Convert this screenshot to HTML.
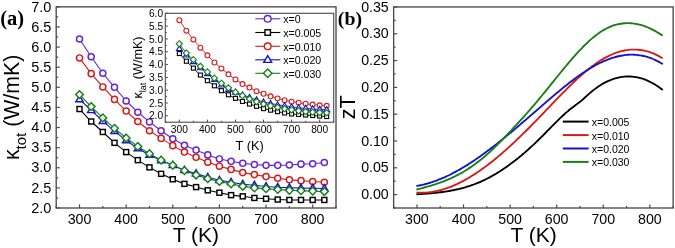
<!DOCTYPE html>
<html><head><meta charset="utf-8"><style>
html,body{margin:0;padding:0;background:#fff;}
body{width:675px;height:248px;overflow:hidden;font-family:"Liberation Sans",sans-serif;}
svg{display:block;filter:blur(0.4px);}
</style></head><body>
<svg width="675" height="248" viewBox="0 0 675 248">
<rect width="675" height="248" fill="#fff"/>
<line x1="56.2" y1="208" x2="59.8" y2="208" stroke="#4a4a4a" stroke-width="1.2"/>
<text x="51.3" y="212.7" font-family='"Liberation Sans", sans-serif' font-size="14.5" text-anchor="end" font-weight="normal" fill="#000" >2.0</text>
<line x1="56.2" y1="197.94" x2="58.2" y2="197.94" stroke="#4a4a4a" stroke-width="1.2"/>
<line x1="56.2" y1="187.89" x2="59.8" y2="187.89" stroke="#4a4a4a" stroke-width="1.2"/>
<text x="51.3" y="192.59" font-family='"Liberation Sans", sans-serif' font-size="14.5" text-anchor="end" font-weight="normal" fill="#000" >2.5</text>
<line x1="56.2" y1="177.83" x2="58.2" y2="177.83" stroke="#4a4a4a" stroke-width="1.2"/>
<line x1="56.2" y1="167.77" x2="59.8" y2="167.77" stroke="#4a4a4a" stroke-width="1.2"/>
<text x="51.3" y="172.47" font-family='"Liberation Sans", sans-serif' font-size="14.5" text-anchor="end" font-weight="normal" fill="#000" >3.0</text>
<line x1="56.2" y1="157.71" x2="58.2" y2="157.71" stroke="#4a4a4a" stroke-width="1.2"/>
<line x1="56.2" y1="147.66" x2="59.8" y2="147.66" stroke="#4a4a4a" stroke-width="1.2"/>
<text x="51.3" y="152.35" font-family='"Liberation Sans", sans-serif' font-size="14.5" text-anchor="end" font-weight="normal" fill="#000" >3.5</text>
<line x1="56.2" y1="137.6" x2="58.2" y2="137.6" stroke="#4a4a4a" stroke-width="1.2"/>
<line x1="56.2" y1="127.54" x2="59.8" y2="127.54" stroke="#4a4a4a" stroke-width="1.2"/>
<text x="51.3" y="132.24" font-family='"Liberation Sans", sans-serif' font-size="14.5" text-anchor="end" font-weight="normal" fill="#000" >4.0</text>
<line x1="56.2" y1="117.48" x2="58.2" y2="117.48" stroke="#4a4a4a" stroke-width="1.2"/>
<line x1="56.2" y1="107.42" x2="59.8" y2="107.42" stroke="#4a4a4a" stroke-width="1.2"/>
<text x="51.3" y="112.12" font-family='"Liberation Sans", sans-serif' font-size="14.5" text-anchor="end" font-weight="normal" fill="#000" >4.5</text>
<line x1="56.2" y1="97.37" x2="58.2" y2="97.37" stroke="#4a4a4a" stroke-width="1.2"/>
<line x1="56.2" y1="87.31" x2="59.8" y2="87.31" stroke="#4a4a4a" stroke-width="1.2"/>
<text x="51.3" y="92.01" font-family='"Liberation Sans", sans-serif' font-size="14.5" text-anchor="end" font-weight="normal" fill="#000" >5.0</text>
<line x1="56.2" y1="77.25" x2="58.2" y2="77.25" stroke="#4a4a4a" stroke-width="1.2"/>
<line x1="56.2" y1="67.2" x2="59.8" y2="67.2" stroke="#4a4a4a" stroke-width="1.2"/>
<text x="51.3" y="71.9" font-family='"Liberation Sans", sans-serif' font-size="14.5" text-anchor="end" font-weight="normal" fill="#000" >5.5</text>
<line x1="56.2" y1="57.14" x2="58.2" y2="57.14" stroke="#4a4a4a" stroke-width="1.2"/>
<line x1="56.2" y1="47.08" x2="59.8" y2="47.08" stroke="#4a4a4a" stroke-width="1.2"/>
<text x="51.3" y="51.78" font-family='"Liberation Sans", sans-serif' font-size="14.5" text-anchor="end" font-weight="normal" fill="#000" >6.0</text>
<line x1="56.2" y1="37.02" x2="58.2" y2="37.02" stroke="#4a4a4a" stroke-width="1.2"/>
<line x1="56.2" y1="26.97" x2="59.8" y2="26.97" stroke="#4a4a4a" stroke-width="1.2"/>
<text x="51.3" y="31.67" font-family='"Liberation Sans", sans-serif' font-size="14.5" text-anchor="end" font-weight="normal" fill="#000" >6.5</text>
<line x1="56.2" y1="16.91" x2="58.2" y2="16.91" stroke="#4a4a4a" stroke-width="1.2"/>
<line x1="56.2" y1="6.85" x2="59.8" y2="6.85" stroke="#4a4a4a" stroke-width="1.2"/>
<text x="51.3" y="11.55" font-family='"Liberation Sans", sans-serif' font-size="14.5" text-anchor="end" font-weight="normal" fill="#000" >7.0</text>
<line x1="56.2" y1="208" x2="56.2" y2="206" stroke="#4a4a4a" stroke-width="1.2"/>
<line x1="79.52" y1="208" x2="79.52" y2="204.4" stroke="#4a4a4a" stroke-width="1.2"/>
<text x="79.52" y="224.2" font-family='"Liberation Sans", sans-serif' font-size="14.2" text-anchor="middle" font-weight="normal" fill="#000" >300</text>
<line x1="102.83" y1="208" x2="102.83" y2="206" stroke="#4a4a4a" stroke-width="1.2"/>
<line x1="126.15" y1="208" x2="126.15" y2="204.4" stroke="#4a4a4a" stroke-width="1.2"/>
<text x="126.15" y="224.2" font-family='"Liberation Sans", sans-serif' font-size="14.2" text-anchor="middle" font-weight="normal" fill="#000" >400</text>
<line x1="149.47" y1="208" x2="149.47" y2="206" stroke="#4a4a4a" stroke-width="1.2"/>
<line x1="172.78" y1="208" x2="172.78" y2="204.4" stroke="#4a4a4a" stroke-width="1.2"/>
<text x="172.78" y="224.2" font-family='"Liberation Sans", sans-serif' font-size="14.2" text-anchor="middle" font-weight="normal" fill="#000" >500</text>
<line x1="196.1" y1="208" x2="196.1" y2="206" stroke="#4a4a4a" stroke-width="1.2"/>
<line x1="219.42" y1="208" x2="219.42" y2="204.4" stroke="#4a4a4a" stroke-width="1.2"/>
<text x="219.42" y="224.2" font-family='"Liberation Sans", sans-serif' font-size="14.2" text-anchor="middle" font-weight="normal" fill="#000" >600</text>
<line x1="242.73" y1="208" x2="242.73" y2="206" stroke="#4a4a4a" stroke-width="1.2"/>
<line x1="266.05" y1="208" x2="266.05" y2="204.4" stroke="#4a4a4a" stroke-width="1.2"/>
<text x="266.05" y="224.2" font-family='"Liberation Sans", sans-serif' font-size="14.2" text-anchor="middle" font-weight="normal" fill="#000" >700</text>
<line x1="289.37" y1="208" x2="289.37" y2="206" stroke="#4a4a4a" stroke-width="1.2"/>
<line x1="312.68" y1="208" x2="312.68" y2="204.4" stroke="#4a4a4a" stroke-width="1.2"/>
<text x="312.68" y="224.2" font-family='"Liberation Sans", sans-serif' font-size="14.2" text-anchor="middle" font-weight="normal" fill="#000" >800</text>
<line x1="336" y1="208" x2="336" y2="206" stroke="#4a4a4a" stroke-width="1.2"/>
<polyline points="79.52,39.03 91.18,56.74 102.83,73.23 114.49,87.31 126.15,100.99 137.81,112.25 149.47,121.91 161.12,130.76 172.78,138.8 184.44,145.24 196.1,150.07 207.76,154.9 219.42,158.92 231.07,161.33 242.73,163.34 254.39,164.55 266.05,165.36 277.71,165.36 289.37,164.95 301.02,164.15 312.68,163.75 324.34,162.54" fill="none" stroke="#6424d6" stroke-width="1.1"/>
<polyline points="79.52,109.03 91.18,121.51 102.83,131.97 114.49,142.83 126.15,152.08 137.81,160.13 149.47,167.37 161.12,173.8 172.78,179.24 184.44,183.86 196.1,187.08 207.76,190.3 219.42,192.71 231.07,195.13 242.73,196.33 254.39,197.94 266.05,198.75 277.71,199.55 289.37,199.95 301.02,199.95 312.68,199.95 324.34,199.95" fill="none" stroke="#000000" stroke-width="1.1"/>
<polyline points="79.52,57.94 91.18,73.63 102.83,86.91 114.49,99.38 126.15,111.05 137.81,121.51 149.47,130.76 161.12,138.4 172.78,145.64 184.44,152.08 196.1,157.31 207.76,162.14 219.42,166.16 231.07,169.38 242.73,172.6 254.39,174.61 266.05,176.62 277.71,178.23 289.37,179.84 301.02,180.64 312.68,181.45 324.34,182.25" fill="none" stroke="#d61a1a" stroke-width="1.1"/>
<polyline points="79.52,99.38 91.18,110.24 102.83,121.1 114.49,131.16 126.15,140.41 137.81,148.46 149.47,154.9 161.12,160.53 172.78,165.16 184.44,170.18 196.1,173.6 207.76,177.22 219.42,180.24 231.07,182.25 242.73,184.26 254.39,185.27 266.05,186.48 277.71,187.28 289.37,187.68 301.02,188.09 312.68,188.29 324.34,188.49" fill="none" stroke="#1212cc" stroke-width="1.1"/>
<polyline points="79.52,94.55 91.18,106.62 102.83,117.88 114.49,128.34 126.15,138 137.81,146.45 149.47,153.69 161.12,160.13 172.78,165.36 184.44,170.59 196.1,175.01 207.76,178.63 219.42,181.45 231.07,183.86 242.73,186.28 254.39,187.89 266.05,188.69 277.71,189.49 289.37,190.3 301.02,190.7 312.68,191.1 324.34,191.51" fill="none" stroke="#167f16" stroke-width="1.1"/>
<circle cx="79.52" cy="39.03" r="3.05" fill="#fff" stroke="#6424d6" stroke-width="1.45"/>
<circle cx="91.18" cy="56.74" r="3.05" fill="#fff" stroke="#6424d6" stroke-width="1.45"/>
<circle cx="102.83" cy="73.23" r="3.05" fill="#fff" stroke="#6424d6" stroke-width="1.45"/>
<circle cx="114.49" cy="87.31" r="3.05" fill="#fff" stroke="#6424d6" stroke-width="1.45"/>
<circle cx="126.15" cy="100.99" r="3.05" fill="#fff" stroke="#6424d6" stroke-width="1.45"/>
<circle cx="137.81" cy="112.25" r="3.05" fill="#fff" stroke="#6424d6" stroke-width="1.45"/>
<circle cx="149.47" cy="121.91" r="3.05" fill="#fff" stroke="#6424d6" stroke-width="1.45"/>
<circle cx="161.12" cy="130.76" r="3.05" fill="#fff" stroke="#6424d6" stroke-width="1.45"/>
<circle cx="172.78" cy="138.8" r="3.05" fill="#fff" stroke="#6424d6" stroke-width="1.45"/>
<circle cx="184.44" cy="145.24" r="3.05" fill="#fff" stroke="#6424d6" stroke-width="1.45"/>
<circle cx="196.1" cy="150.07" r="3.05" fill="#fff" stroke="#6424d6" stroke-width="1.45"/>
<circle cx="207.76" cy="154.9" r="3.05" fill="#fff" stroke="#6424d6" stroke-width="1.45"/>
<circle cx="219.42" cy="158.92" r="3.05" fill="#fff" stroke="#6424d6" stroke-width="1.45"/>
<circle cx="231.07" cy="161.33" r="3.05" fill="#fff" stroke="#6424d6" stroke-width="1.45"/>
<circle cx="242.73" cy="163.34" r="3.05" fill="#fff" stroke="#6424d6" stroke-width="1.45"/>
<circle cx="254.39" cy="164.55" r="3.05" fill="#fff" stroke="#6424d6" stroke-width="1.45"/>
<circle cx="266.05" cy="165.36" r="3.05" fill="#fff" stroke="#6424d6" stroke-width="1.45"/>
<circle cx="277.71" cy="165.36" r="3.05" fill="#fff" stroke="#6424d6" stroke-width="1.45"/>
<circle cx="289.37" cy="164.95" r="3.05" fill="#fff" stroke="#6424d6" stroke-width="1.45"/>
<circle cx="301.02" cy="164.15" r="3.05" fill="#fff" stroke="#6424d6" stroke-width="1.45"/>
<circle cx="312.68" cy="163.75" r="3.05" fill="#fff" stroke="#6424d6" stroke-width="1.45"/>
<circle cx="324.34" cy="162.54" r="3.05" fill="#fff" stroke="#6424d6" stroke-width="1.45"/>
<rect x="77.02" y="106.53" width="5" height="5" fill="#fff" stroke="#000000" stroke-width="1.45"/>
<rect x="88.68" y="119.01" width="5" height="5" fill="#fff" stroke="#000000" stroke-width="1.45"/>
<rect x="100.33" y="129.47" width="5" height="5" fill="#fff" stroke="#000000" stroke-width="1.45"/>
<rect x="111.99" y="140.33" width="5" height="5" fill="#fff" stroke="#000000" stroke-width="1.45"/>
<rect x="123.65" y="149.58" width="5" height="5" fill="#fff" stroke="#000000" stroke-width="1.45"/>
<rect x="135.31" y="157.63" width="5" height="5" fill="#fff" stroke="#000000" stroke-width="1.45"/>
<rect x="146.97" y="164.87" width="5" height="5" fill="#fff" stroke="#000000" stroke-width="1.45"/>
<rect x="158.62" y="171.3" width="5" height="5" fill="#fff" stroke="#000000" stroke-width="1.45"/>
<rect x="170.28" y="176.74" width="5" height="5" fill="#fff" stroke="#000000" stroke-width="1.45"/>
<rect x="181.94" y="181.36" width="5" height="5" fill="#fff" stroke="#000000" stroke-width="1.45"/>
<rect x="193.6" y="184.58" width="5" height="5" fill="#fff" stroke="#000000" stroke-width="1.45"/>
<rect x="205.26" y="187.8" width="5" height="5" fill="#fff" stroke="#000000" stroke-width="1.45"/>
<rect x="216.92" y="190.21" width="5" height="5" fill="#fff" stroke="#000000" stroke-width="1.45"/>
<rect x="228.57" y="192.63" width="5" height="5" fill="#fff" stroke="#000000" stroke-width="1.45"/>
<rect x="240.23" y="193.83" width="5" height="5" fill="#fff" stroke="#000000" stroke-width="1.45"/>
<rect x="251.89" y="195.44" width="5" height="5" fill="#fff" stroke="#000000" stroke-width="1.45"/>
<rect x="263.55" y="196.25" width="5" height="5" fill="#fff" stroke="#000000" stroke-width="1.45"/>
<rect x="275.21" y="197.05" width="5" height="5" fill="#fff" stroke="#000000" stroke-width="1.45"/>
<rect x="286.87" y="197.45" width="5" height="5" fill="#fff" stroke="#000000" stroke-width="1.45"/>
<rect x="298.52" y="197.45" width="5" height="5" fill="#fff" stroke="#000000" stroke-width="1.45"/>
<rect x="310.18" y="197.45" width="5" height="5" fill="#fff" stroke="#000000" stroke-width="1.45"/>
<rect x="321.84" y="197.45" width="5" height="5" fill="#fff" stroke="#000000" stroke-width="1.45"/>
<circle cx="79.52" cy="57.94" r="3.05" fill="#fff" stroke="#d61a1a" stroke-width="1.45"/>
<circle cx="91.18" cy="73.63" r="3.05" fill="#fff" stroke="#d61a1a" stroke-width="1.45"/>
<circle cx="102.83" cy="86.91" r="3.05" fill="#fff" stroke="#d61a1a" stroke-width="1.45"/>
<circle cx="114.49" cy="99.38" r="3.05" fill="#fff" stroke="#d61a1a" stroke-width="1.45"/>
<circle cx="126.15" cy="111.05" r="3.05" fill="#fff" stroke="#d61a1a" stroke-width="1.45"/>
<circle cx="137.81" cy="121.51" r="3.05" fill="#fff" stroke="#d61a1a" stroke-width="1.45"/>
<circle cx="149.47" cy="130.76" r="3.05" fill="#fff" stroke="#d61a1a" stroke-width="1.45"/>
<circle cx="161.12" cy="138.4" r="3.05" fill="#fff" stroke="#d61a1a" stroke-width="1.45"/>
<circle cx="172.78" cy="145.64" r="3.05" fill="#fff" stroke="#d61a1a" stroke-width="1.45"/>
<circle cx="184.44" cy="152.08" r="3.05" fill="#fff" stroke="#d61a1a" stroke-width="1.45"/>
<circle cx="196.1" cy="157.31" r="3.05" fill="#fff" stroke="#d61a1a" stroke-width="1.45"/>
<circle cx="207.76" cy="162.14" r="3.05" fill="#fff" stroke="#d61a1a" stroke-width="1.45"/>
<circle cx="219.42" cy="166.16" r="3.05" fill="#fff" stroke="#d61a1a" stroke-width="1.45"/>
<circle cx="231.07" cy="169.38" r="3.05" fill="#fff" stroke="#d61a1a" stroke-width="1.45"/>
<circle cx="242.73" cy="172.6" r="3.05" fill="#fff" stroke="#d61a1a" stroke-width="1.45"/>
<circle cx="254.39" cy="174.61" r="3.05" fill="#fff" stroke="#d61a1a" stroke-width="1.45"/>
<circle cx="266.05" cy="176.62" r="3.05" fill="#fff" stroke="#d61a1a" stroke-width="1.45"/>
<circle cx="277.71" cy="178.23" r="3.05" fill="#fff" stroke="#d61a1a" stroke-width="1.45"/>
<circle cx="289.37" cy="179.84" r="3.05" fill="#fff" stroke="#d61a1a" stroke-width="1.45"/>
<circle cx="301.02" cy="180.64" r="3.05" fill="#fff" stroke="#d61a1a" stroke-width="1.45"/>
<circle cx="312.68" cy="181.45" r="3.05" fill="#fff" stroke="#d61a1a" stroke-width="1.45"/>
<circle cx="324.34" cy="182.25" r="3.05" fill="#fff" stroke="#d61a1a" stroke-width="1.45"/>
<polygon points="79.52,95.58 83.13,101.73 75.91,101.73" fill="#fff" stroke="#1212cc" stroke-width="1.45" stroke-linejoin="miter"/>
<polygon points="91.18,106.44 94.79,112.6 87.57,112.6" fill="#fff" stroke="#1212cc" stroke-width="1.45" stroke-linejoin="miter"/>
<polygon points="102.83,117.3 106.44,123.46 99.22,123.46" fill="#fff" stroke="#1212cc" stroke-width="1.45" stroke-linejoin="miter"/>
<polygon points="114.49,127.36 118.1,133.52 110.88,133.52" fill="#fff" stroke="#1212cc" stroke-width="1.45" stroke-linejoin="miter"/>
<polygon points="126.15,136.61 129.76,142.77 122.54,142.77" fill="#fff" stroke="#1212cc" stroke-width="1.45" stroke-linejoin="miter"/>
<polygon points="137.81,144.66 141.42,150.82 134.2,150.82" fill="#fff" stroke="#1212cc" stroke-width="1.45" stroke-linejoin="miter"/>
<polygon points="149.47,151.1 153.08,157.25 145.86,157.25" fill="#fff" stroke="#1212cc" stroke-width="1.45" stroke-linejoin="miter"/>
<polygon points="161.12,156.73 164.74,162.88 157.51,162.88" fill="#fff" stroke="#1212cc" stroke-width="1.45" stroke-linejoin="miter"/>
<polygon points="172.78,161.36 176.39,167.51 169.17,167.51" fill="#fff" stroke="#1212cc" stroke-width="1.45" stroke-linejoin="miter"/>
<polygon points="184.44,166.38 188.05,172.54 180.83,172.54" fill="#fff" stroke="#1212cc" stroke-width="1.45" stroke-linejoin="miter"/>
<polygon points="196.1,169.8 199.71,175.96 192.49,175.96" fill="#fff" stroke="#1212cc" stroke-width="1.45" stroke-linejoin="miter"/>
<polygon points="207.76,173.42 211.37,179.58 204.15,179.58" fill="#fff" stroke="#1212cc" stroke-width="1.45" stroke-linejoin="miter"/>
<polygon points="219.42,176.44 223.03,182.6 215.81,182.6" fill="#fff" stroke="#1212cc" stroke-width="1.45" stroke-linejoin="miter"/>
<polygon points="231.07,178.45 234.69,184.61 227.46,184.61" fill="#fff" stroke="#1212cc" stroke-width="1.45" stroke-linejoin="miter"/>
<polygon points="242.73,180.46 246.34,186.62 239.12,186.62" fill="#fff" stroke="#1212cc" stroke-width="1.45" stroke-linejoin="miter"/>
<polygon points="254.39,181.47 258,187.63 250.78,187.63" fill="#fff" stroke="#1212cc" stroke-width="1.45" stroke-linejoin="miter"/>
<polygon points="266.05,182.68 269.66,188.83 262.44,188.83" fill="#fff" stroke="#1212cc" stroke-width="1.45" stroke-linejoin="miter"/>
<polygon points="277.71,183.48 281.32,189.64 274.1,189.64" fill="#fff" stroke="#1212cc" stroke-width="1.45" stroke-linejoin="miter"/>
<polygon points="289.37,183.88 292.98,190.04 285.76,190.04" fill="#fff" stroke="#1212cc" stroke-width="1.45" stroke-linejoin="miter"/>
<polygon points="301.02,184.29 304.63,190.44 297.41,190.44" fill="#fff" stroke="#1212cc" stroke-width="1.45" stroke-linejoin="miter"/>
<polygon points="312.68,184.49 316.29,190.64 309.07,190.64" fill="#fff" stroke="#1212cc" stroke-width="1.45" stroke-linejoin="miter"/>
<polygon points="324.34,184.69 327.95,190.84 320.73,190.84" fill="#fff" stroke="#1212cc" stroke-width="1.45" stroke-linejoin="miter"/>
<polygon points="79.52,90.7 83.37,94.55 79.52,98.4 75.67,94.55" fill="#fff" stroke="#167f16" stroke-width="1.45"/>
<polygon points="91.18,102.77 95.03,106.62 91.18,110.47 87.33,106.62" fill="#fff" stroke="#167f16" stroke-width="1.45"/>
<polygon points="102.83,114.03 106.68,117.88 102.83,121.73 98.98,117.88" fill="#fff" stroke="#167f16" stroke-width="1.45"/>
<polygon points="114.49,124.49 118.34,128.34 114.49,132.19 110.64,128.34" fill="#fff" stroke="#167f16" stroke-width="1.45"/>
<polygon points="126.15,134.15 130,138 126.15,141.85 122.3,138" fill="#fff" stroke="#167f16" stroke-width="1.45"/>
<polygon points="137.81,142.6 141.66,146.45 137.81,150.3 133.96,146.45" fill="#fff" stroke="#167f16" stroke-width="1.45"/>
<polygon points="149.47,149.84 153.32,153.69 149.47,157.54 145.62,153.69" fill="#fff" stroke="#167f16" stroke-width="1.45"/>
<polygon points="161.12,156.28 164.97,160.13 161.12,163.98 157.28,160.13" fill="#fff" stroke="#167f16" stroke-width="1.45"/>
<polygon points="172.78,161.51 176.63,165.36 172.78,169.21 168.93,165.36" fill="#fff" stroke="#167f16" stroke-width="1.45"/>
<polygon points="184.44,166.74 188.29,170.59 184.44,174.44 180.59,170.59" fill="#fff" stroke="#167f16" stroke-width="1.45"/>
<polygon points="196.1,171.16 199.95,175.01 196.1,178.86 192.25,175.01" fill="#fff" stroke="#167f16" stroke-width="1.45"/>
<polygon points="207.76,174.78 211.61,178.63 207.76,182.48 203.91,178.63" fill="#fff" stroke="#167f16" stroke-width="1.45"/>
<polygon points="219.42,177.6 223.27,181.45 219.42,185.3 215.57,181.45" fill="#fff" stroke="#167f16" stroke-width="1.45"/>
<polygon points="231.07,180.01 234.92,183.86 231.07,187.71 227.22,183.86" fill="#fff" stroke="#167f16" stroke-width="1.45"/>
<polygon points="242.73,182.43 246.58,186.28 242.73,190.13 238.88,186.28" fill="#fff" stroke="#167f16" stroke-width="1.45"/>
<polygon points="254.39,184.04 258.24,187.89 254.39,191.74 250.54,187.89" fill="#fff" stroke="#167f16" stroke-width="1.45"/>
<polygon points="266.05,184.84 269.9,188.69 266.05,192.54 262.2,188.69" fill="#fff" stroke="#167f16" stroke-width="1.45"/>
<polygon points="277.71,185.64 281.56,189.49 277.71,193.34 273.86,189.49" fill="#fff" stroke="#167f16" stroke-width="1.45"/>
<polygon points="289.37,186.45 293.22,190.3 289.37,194.15 285.52,190.3" fill="#fff" stroke="#167f16" stroke-width="1.45"/>
<polygon points="301.02,186.85 304.88,190.7 301.02,194.55 297.17,190.7" fill="#fff" stroke="#167f16" stroke-width="1.45"/>
<polygon points="312.68,187.25 316.53,191.1 312.68,194.95 308.83,191.1" fill="#fff" stroke="#167f16" stroke-width="1.45"/>
<polygon points="324.34,187.66 328.19,191.51 324.34,195.36 320.49,191.51" fill="#fff" stroke="#167f16" stroke-width="1.45"/>
<rect x="56.2" y="6.85" width="279.8" height="201.15" fill="none" stroke="#4a4a4a" stroke-width="1.35"/>
<text x="195.9" y="242.2" font-family='"Liberation Sans", sans-serif' font-size="21" text-anchor="middle" font-weight="normal" fill="#000" >T (K)</text>
<text transform="translate(19.4,107.4) rotate(-90)" font-family='"Liberation Sans", sans-serif' font-size="21.3" text-anchor="middle" fill="#000">&#954;<tspan font-size="15" dy="6.5">tot</tspan><tspan dy="-6.5"> (W/mK)</tspan></text>
<text x="0.3" y="24.6" font-family='"Liberation Serif", serif' font-size="20.5" text-anchor="start" font-weight="bold" fill="#000" >(a)</text>
<rect x="165.3" y="13.3" width="168.4" height="108.9" fill="#fff" stroke="none"/>
<line x1="165.3" y1="122.2" x2="166.8" y2="122.2" stroke="#4a4a4a" stroke-width="1"/>
<line x1="165.3" y1="115.79" x2="167.9" y2="115.79" stroke="#4a4a4a" stroke-width="1"/>
<text x="163.1" y="119.39" font-family='"Liberation Sans", sans-serif' font-size="10.2" text-anchor="end" font-weight="normal" fill="#000" >2.0</text>
<line x1="165.3" y1="109.39" x2="166.8" y2="109.39" stroke="#4a4a4a" stroke-width="1"/>
<line x1="165.3" y1="102.98" x2="167.9" y2="102.98" stroke="#4a4a4a" stroke-width="1"/>
<text x="163.1" y="106.58" font-family='"Liberation Sans", sans-serif' font-size="10.2" text-anchor="end" font-weight="normal" fill="#000" >2.5</text>
<line x1="165.3" y1="96.58" x2="166.8" y2="96.58" stroke="#4a4a4a" stroke-width="1"/>
<line x1="165.3" y1="90.17" x2="167.9" y2="90.17" stroke="#4a4a4a" stroke-width="1"/>
<text x="163.1" y="93.77" font-family='"Liberation Sans", sans-serif' font-size="10.2" text-anchor="end" font-weight="normal" fill="#000" >3.0</text>
<line x1="165.3" y1="83.76" x2="166.8" y2="83.76" stroke="#4a4a4a" stroke-width="1"/>
<line x1="165.3" y1="77.36" x2="167.9" y2="77.36" stroke="#4a4a4a" stroke-width="1"/>
<text x="163.1" y="80.96" font-family='"Liberation Sans", sans-serif' font-size="10.2" text-anchor="end" font-weight="normal" fill="#000" >3.5</text>
<line x1="165.3" y1="70.95" x2="166.8" y2="70.95" stroke="#4a4a4a" stroke-width="1"/>
<line x1="165.3" y1="64.55" x2="167.9" y2="64.55" stroke="#4a4a4a" stroke-width="1"/>
<text x="163.1" y="68.15" font-family='"Liberation Sans", sans-serif' font-size="10.2" text-anchor="end" font-weight="normal" fill="#000" >4.0</text>
<line x1="165.3" y1="58.14" x2="166.8" y2="58.14" stroke="#4a4a4a" stroke-width="1"/>
<line x1="165.3" y1="51.74" x2="167.9" y2="51.74" stroke="#4a4a4a" stroke-width="1"/>
<text x="163.1" y="55.34" font-family='"Liberation Sans", sans-serif' font-size="10.2" text-anchor="end" font-weight="normal" fill="#000" >4.5</text>
<line x1="165.3" y1="45.33" x2="166.8" y2="45.33" stroke="#4a4a4a" stroke-width="1"/>
<line x1="165.3" y1="38.92" x2="167.9" y2="38.92" stroke="#4a4a4a" stroke-width="1"/>
<text x="163.1" y="42.52" font-family='"Liberation Sans", sans-serif' font-size="10.2" text-anchor="end" font-weight="normal" fill="#000" >5.0</text>
<line x1="165.3" y1="32.52" x2="166.8" y2="32.52" stroke="#4a4a4a" stroke-width="1"/>
<line x1="165.3" y1="26.11" x2="167.9" y2="26.11" stroke="#4a4a4a" stroke-width="1"/>
<text x="163.1" y="29.71" font-family='"Liberation Sans", sans-serif' font-size="10.2" text-anchor="end" font-weight="normal" fill="#000" >5.5</text>
<line x1="165.3" y1="19.71" x2="166.8" y2="19.71" stroke="#4a4a4a" stroke-width="1"/>
<line x1="165.3" y1="13.3" x2="167.9" y2="13.3" stroke="#4a4a4a" stroke-width="1"/>
<text x="163.1" y="16.9" font-family='"Liberation Sans", sans-serif' font-size="10.2" text-anchor="end" font-weight="normal" fill="#000" >6.0</text>
<line x1="165.3" y1="122.2" x2="165.3" y2="120.7" stroke="#4a4a4a" stroke-width="1"/>
<line x1="179.33" y1="122.2" x2="179.33" y2="119.6" stroke="#4a4a4a" stroke-width="1"/>
<text x="179.33" y="132.6" font-family='"Liberation Sans", sans-serif' font-size="10.2" text-anchor="middle" font-weight="normal" fill="#000" >300</text>
<line x1="193.37" y1="122.2" x2="193.37" y2="120.7" stroke="#4a4a4a" stroke-width="1"/>
<line x1="207.4" y1="122.2" x2="207.4" y2="119.6" stroke="#4a4a4a" stroke-width="1"/>
<text x="207.4" y="132.6" font-family='"Liberation Sans", sans-serif' font-size="10.2" text-anchor="middle" font-weight="normal" fill="#000" >400</text>
<line x1="221.43" y1="122.2" x2="221.43" y2="120.7" stroke="#4a4a4a" stroke-width="1"/>
<line x1="235.47" y1="122.2" x2="235.47" y2="119.6" stroke="#4a4a4a" stroke-width="1"/>
<text x="235.47" y="132.6" font-family='"Liberation Sans", sans-serif' font-size="10.2" text-anchor="middle" font-weight="normal" fill="#000" >500</text>
<line x1="249.5" y1="122.2" x2="249.5" y2="120.7" stroke="#4a4a4a" stroke-width="1"/>
<line x1="263.53" y1="122.2" x2="263.53" y2="119.6" stroke="#4a4a4a" stroke-width="1"/>
<text x="263.53" y="132.6" font-family='"Liberation Sans", sans-serif' font-size="10.2" text-anchor="middle" font-weight="normal" fill="#000" >600</text>
<line x1="277.57" y1="122.2" x2="277.57" y2="120.7" stroke="#4a4a4a" stroke-width="1"/>
<line x1="291.6" y1="122.2" x2="291.6" y2="119.6" stroke="#4a4a4a" stroke-width="1"/>
<text x="291.6" y="132.6" font-family='"Liberation Sans", sans-serif' font-size="10.2" text-anchor="middle" font-weight="normal" fill="#000" >700</text>
<line x1="305.63" y1="122.2" x2="305.63" y2="120.7" stroke="#4a4a4a" stroke-width="1"/>
<line x1="319.67" y1="122.2" x2="319.67" y2="119.6" stroke="#4a4a4a" stroke-width="1"/>
<text x="319.67" y="132.6" font-family='"Liberation Sans", sans-serif' font-size="10.2" text-anchor="middle" font-weight="normal" fill="#000" >800</text>
<line x1="333.7" y1="122.2" x2="333.7" y2="120.7" stroke="#4a4a4a" stroke-width="1"/>
<polyline points="179.33,53.53 186.35,61.22 193.37,68.13 200.38,75.05 207.4,80.69 214.42,85.81 221.43,90.68 228.45,94.78 235.47,98.37 242.48,101.44 249.5,104.01 256.52,106.31 263.53,108.62 270.55,110.16 277.57,111.69 284.58,112.98 291.6,114 298.62,114.51 305.63,115.03 312.65,115.54 319.67,116.05 326.68,116.56" fill="none" stroke="#000000" stroke-width="0.9"/>
<polyline points="179.33,20.22 186.35,30.72 193.37,39.44 200.38,47.64 207.4,55.32 214.42,62.5 221.43,68.39 228.45,74.28 235.47,79.41 242.48,84.02 249.5,87.61 256.52,91.2 263.53,93.76 270.55,96.32 277.57,98.37 284.58,100.16 291.6,101.7 298.62,102.73 305.63,103.75 312.65,104.52 319.67,105.29 326.68,105.8" fill="none" stroke="#d61a1a" stroke-width="0.9"/>
<polyline points="179.33,48.66 186.35,55.07 193.37,61.73 200.38,67.88 207.4,73.77 214.42,79.66 221.43,85.05 228.45,89.66 235.47,92.22 242.48,94.78 249.5,97.35 256.52,99.91 263.53,101.96 270.55,103.49 277.57,104.78 284.58,105.8 291.6,106.83 298.62,107.72 305.63,108.36 312.65,108.88 319.67,109.39 326.68,109.64" fill="none" stroke="#1212cc" stroke-width="0.9"/>
<polyline points="179.33,43.79 186.35,53.02 193.37,59.68 200.38,66.34 207.4,71.98 214.42,78.13 221.43,83.25 228.45,87.86 235.47,92.22 242.48,95.55 249.5,98.88 256.52,101.57 263.53,104.01 270.55,105.8 277.57,107.34 284.58,108.75 291.6,109.77 298.62,110.8 305.63,111.57 312.65,112.21 319.67,112.59 326.68,112.85" fill="none" stroke="#167f16" stroke-width="0.9"/>
<rect x="177.33" y="51.53" width="4" height="4" fill="#fff" stroke="#000000" stroke-width="1.1"/>
<rect x="184.35" y="59.22" width="4" height="4" fill="#fff" stroke="#000000" stroke-width="1.1"/>
<rect x="191.37" y="66.13" width="4" height="4" fill="#fff" stroke="#000000" stroke-width="1.1"/>
<rect x="198.38" y="73.05" width="4" height="4" fill="#fff" stroke="#000000" stroke-width="1.1"/>
<rect x="205.4" y="78.69" width="4" height="4" fill="#fff" stroke="#000000" stroke-width="1.1"/>
<rect x="212.42" y="83.81" width="4" height="4" fill="#fff" stroke="#000000" stroke-width="1.1"/>
<rect x="219.43" y="88.68" width="4" height="4" fill="#fff" stroke="#000000" stroke-width="1.1"/>
<rect x="226.45" y="92.78" width="4" height="4" fill="#fff" stroke="#000000" stroke-width="1.1"/>
<rect x="233.47" y="96.37" width="4" height="4" fill="#fff" stroke="#000000" stroke-width="1.1"/>
<rect x="240.48" y="99.44" width="4" height="4" fill="#fff" stroke="#000000" stroke-width="1.1"/>
<rect x="247.5" y="102.01" width="4" height="4" fill="#fff" stroke="#000000" stroke-width="1.1"/>
<rect x="254.52" y="104.31" width="4" height="4" fill="#fff" stroke="#000000" stroke-width="1.1"/>
<rect x="261.53" y="106.62" width="4" height="4" fill="#fff" stroke="#000000" stroke-width="1.1"/>
<rect x="268.55" y="108.16" width="4" height="4" fill="#fff" stroke="#000000" stroke-width="1.1"/>
<rect x="275.57" y="109.69" width="4" height="4" fill="#fff" stroke="#000000" stroke-width="1.1"/>
<rect x="282.58" y="110.98" width="4" height="4" fill="#fff" stroke="#000000" stroke-width="1.1"/>
<rect x="289.6" y="112" width="4" height="4" fill="#fff" stroke="#000000" stroke-width="1.1"/>
<rect x="296.62" y="112.51" width="4" height="4" fill="#fff" stroke="#000000" stroke-width="1.1"/>
<rect x="303.63" y="113.03" width="4" height="4" fill="#fff" stroke="#000000" stroke-width="1.1"/>
<rect x="310.65" y="113.54" width="4" height="4" fill="#fff" stroke="#000000" stroke-width="1.1"/>
<rect x="317.67" y="114.05" width="4" height="4" fill="#fff" stroke="#000000" stroke-width="1.1"/>
<rect x="324.68" y="114.56" width="4" height="4" fill="#fff" stroke="#000000" stroke-width="1.1"/>
<circle cx="179.33" cy="20.22" r="2.44" fill="#fff" stroke="#d61a1a" stroke-width="1.1"/>
<circle cx="186.35" cy="30.72" r="2.44" fill="#fff" stroke="#d61a1a" stroke-width="1.1"/>
<circle cx="193.37" cy="39.44" r="2.44" fill="#fff" stroke="#d61a1a" stroke-width="1.1"/>
<circle cx="200.38" cy="47.64" r="2.44" fill="#fff" stroke="#d61a1a" stroke-width="1.1"/>
<circle cx="207.4" cy="55.32" r="2.44" fill="#fff" stroke="#d61a1a" stroke-width="1.1"/>
<circle cx="214.42" cy="62.5" r="2.44" fill="#fff" stroke="#d61a1a" stroke-width="1.1"/>
<circle cx="221.43" cy="68.39" r="2.44" fill="#fff" stroke="#d61a1a" stroke-width="1.1"/>
<circle cx="228.45" cy="74.28" r="2.44" fill="#fff" stroke="#d61a1a" stroke-width="1.1"/>
<circle cx="235.47" cy="79.41" r="2.44" fill="#fff" stroke="#d61a1a" stroke-width="1.1"/>
<circle cx="242.48" cy="84.02" r="2.44" fill="#fff" stroke="#d61a1a" stroke-width="1.1"/>
<circle cx="249.5" cy="87.61" r="2.44" fill="#fff" stroke="#d61a1a" stroke-width="1.1"/>
<circle cx="256.52" cy="91.2" r="2.44" fill="#fff" stroke="#d61a1a" stroke-width="1.1"/>
<circle cx="263.53" cy="93.76" r="2.44" fill="#fff" stroke="#d61a1a" stroke-width="1.1"/>
<circle cx="270.55" cy="96.32" r="2.44" fill="#fff" stroke="#d61a1a" stroke-width="1.1"/>
<circle cx="277.57" cy="98.37" r="2.44" fill="#fff" stroke="#d61a1a" stroke-width="1.1"/>
<circle cx="284.58" cy="100.16" r="2.44" fill="#fff" stroke="#d61a1a" stroke-width="1.1"/>
<circle cx="291.6" cy="101.7" r="2.44" fill="#fff" stroke="#d61a1a" stroke-width="1.1"/>
<circle cx="298.62" cy="102.73" r="2.44" fill="#fff" stroke="#d61a1a" stroke-width="1.1"/>
<circle cx="305.63" cy="103.75" r="2.44" fill="#fff" stroke="#d61a1a" stroke-width="1.1"/>
<circle cx="312.65" cy="104.52" r="2.44" fill="#fff" stroke="#d61a1a" stroke-width="1.1"/>
<circle cx="319.67" cy="105.29" r="2.44" fill="#fff" stroke="#d61a1a" stroke-width="1.1"/>
<circle cx="326.68" cy="105.8" r="2.44" fill="#fff" stroke="#d61a1a" stroke-width="1.1"/>
<polygon points="179.33,45.62 182.22,50.55 176.45,50.55" fill="#fff" stroke="#1212cc" stroke-width="1.1" stroke-linejoin="miter"/>
<polygon points="186.35,52.03 189.24,56.95 183.46,56.95" fill="#fff" stroke="#1212cc" stroke-width="1.1" stroke-linejoin="miter"/>
<polygon points="193.37,58.69 196.25,63.61 190.48,63.61" fill="#fff" stroke="#1212cc" stroke-width="1.1" stroke-linejoin="miter"/>
<polygon points="200.38,64.84 203.27,69.76 197.5,69.76" fill="#fff" stroke="#1212cc" stroke-width="1.1" stroke-linejoin="miter"/>
<polygon points="207.4,70.73 210.29,75.66 204.51,75.66" fill="#fff" stroke="#1212cc" stroke-width="1.1" stroke-linejoin="miter"/>
<polygon points="214.42,76.62 217.3,81.55 211.53,81.55" fill="#fff" stroke="#1212cc" stroke-width="1.1" stroke-linejoin="miter"/>
<polygon points="221.43,82.01 224.32,86.93 218.55,86.93" fill="#fff" stroke="#1212cc" stroke-width="1.1" stroke-linejoin="miter"/>
<polygon points="228.45,86.62 231.34,91.54 225.56,91.54" fill="#fff" stroke="#1212cc" stroke-width="1.1" stroke-linejoin="miter"/>
<polygon points="235.47,89.18 238.35,94.11 232.58,94.11" fill="#fff" stroke="#1212cc" stroke-width="1.1" stroke-linejoin="miter"/>
<polygon points="242.48,91.74 245.37,96.67 239.6,96.67" fill="#fff" stroke="#1212cc" stroke-width="1.1" stroke-linejoin="miter"/>
<polygon points="249.5,94.31 252.39,99.23 246.61,99.23" fill="#fff" stroke="#1212cc" stroke-width="1.1" stroke-linejoin="miter"/>
<polygon points="256.52,96.87 259.4,101.79 253.63,101.79" fill="#fff" stroke="#1212cc" stroke-width="1.1" stroke-linejoin="miter"/>
<polygon points="263.53,98.92 266.42,103.84 260.65,103.84" fill="#fff" stroke="#1212cc" stroke-width="1.1" stroke-linejoin="miter"/>
<polygon points="270.55,100.45 273.44,105.38 267.66,105.38" fill="#fff" stroke="#1212cc" stroke-width="1.1" stroke-linejoin="miter"/>
<polygon points="277.57,101.74 280.45,106.66 274.68,106.66" fill="#fff" stroke="#1212cc" stroke-width="1.1" stroke-linejoin="miter"/>
<polygon points="284.58,102.76 287.47,107.69 281.7,107.69" fill="#fff" stroke="#1212cc" stroke-width="1.1" stroke-linejoin="miter"/>
<polygon points="291.6,103.79 294.49,108.71 288.71,108.71" fill="#fff" stroke="#1212cc" stroke-width="1.1" stroke-linejoin="miter"/>
<polygon points="298.62,104.68 301.5,109.61 295.73,109.61" fill="#fff" stroke="#1212cc" stroke-width="1.1" stroke-linejoin="miter"/>
<polygon points="305.63,105.32 308.52,110.25 302.75,110.25" fill="#fff" stroke="#1212cc" stroke-width="1.1" stroke-linejoin="miter"/>
<polygon points="312.65,105.84 315.54,110.76 309.76,110.76" fill="#fff" stroke="#1212cc" stroke-width="1.1" stroke-linejoin="miter"/>
<polygon points="319.67,106.35 322.55,111.27 316.78,111.27" fill="#fff" stroke="#1212cc" stroke-width="1.1" stroke-linejoin="miter"/>
<polygon points="326.68,106.6 329.57,111.53 323.8,111.53" fill="#fff" stroke="#1212cc" stroke-width="1.1" stroke-linejoin="miter"/>
<polygon points="179.33,40.71 182.41,43.79 179.33,46.87 176.25,43.79" fill="#fff" stroke="#167f16" stroke-width="1.1"/>
<polygon points="186.35,49.94 189.43,53.02 186.35,56.1 183.27,53.02" fill="#fff" stroke="#167f16" stroke-width="1.1"/>
<polygon points="193.37,56.6 196.45,59.68 193.37,62.76 190.29,59.68" fill="#fff" stroke="#167f16" stroke-width="1.1"/>
<polygon points="200.38,63.26 203.46,66.34 200.38,69.42 197.3,66.34" fill="#fff" stroke="#167f16" stroke-width="1.1"/>
<polygon points="207.4,68.9 210.48,71.98 207.4,75.06 204.32,71.98" fill="#fff" stroke="#167f16" stroke-width="1.1"/>
<polygon points="214.42,75.05 217.5,78.13 214.42,81.21 211.34,78.13" fill="#fff" stroke="#167f16" stroke-width="1.1"/>
<polygon points="221.43,80.17 224.51,83.25 221.43,86.33 218.35,83.25" fill="#fff" stroke="#167f16" stroke-width="1.1"/>
<polygon points="228.45,84.78 231.53,87.86 228.45,90.94 225.37,87.86" fill="#fff" stroke="#167f16" stroke-width="1.1"/>
<polygon points="235.47,89.14 238.55,92.22 235.47,95.3 232.39,92.22" fill="#fff" stroke="#167f16" stroke-width="1.1"/>
<polygon points="242.48,92.47 245.56,95.55 242.48,98.63 239.4,95.55" fill="#fff" stroke="#167f16" stroke-width="1.1"/>
<polygon points="249.5,95.8 252.58,98.88 249.5,101.96 246.42,98.88" fill="#fff" stroke="#167f16" stroke-width="1.1"/>
<polygon points="256.52,98.49 259.6,101.57 256.52,104.65 253.44,101.57" fill="#fff" stroke="#167f16" stroke-width="1.1"/>
<polygon points="263.53,100.93 266.61,104.01 263.53,107.09 260.45,104.01" fill="#fff" stroke="#167f16" stroke-width="1.1"/>
<polygon points="270.55,102.72 273.63,105.8 270.55,108.88 267.47,105.8" fill="#fff" stroke="#167f16" stroke-width="1.1"/>
<polygon points="277.57,104.26 280.65,107.34 277.57,110.42 274.49,107.34" fill="#fff" stroke="#167f16" stroke-width="1.1"/>
<polygon points="284.58,105.67 287.66,108.75 284.58,111.83 281.5,108.75" fill="#fff" stroke="#167f16" stroke-width="1.1"/>
<polygon points="291.6,106.69 294.68,109.77 291.6,112.85 288.52,109.77" fill="#fff" stroke="#167f16" stroke-width="1.1"/>
<polygon points="298.62,107.72 301.7,110.8 298.62,113.88 295.54,110.8" fill="#fff" stroke="#167f16" stroke-width="1.1"/>
<polygon points="305.63,108.49 308.71,111.57 305.63,114.65 302.55,111.57" fill="#fff" stroke="#167f16" stroke-width="1.1"/>
<polygon points="312.65,109.13 315.73,112.21 312.65,115.29 309.57,112.21" fill="#fff" stroke="#167f16" stroke-width="1.1"/>
<polygon points="319.67,109.51 322.75,112.59 319.67,115.67 316.59,112.59" fill="#fff" stroke="#167f16" stroke-width="1.1"/>
<polygon points="326.68,109.77 329.76,112.85 326.68,115.93 323.6,112.85" fill="#fff" stroke="#167f16" stroke-width="1.1"/>
<rect x="165.3" y="13.3" width="168.4" height="108.9" fill="none" stroke="#4a4a4a" stroke-width="1.1"/>
<text x="249.6" y="150.4" font-family='"Liberation Sans", sans-serif' font-size="12.8" text-anchor="middle" font-weight="normal" fill="#000" >T (K)</text>
<text transform="translate(142.2,67.5) rotate(-90)" font-family='"Liberation Sans", sans-serif' font-size="12.6" text-anchor="middle" fill="#000">&#954;<tspan font-size="9" dy="3.6">lat</tspan><tspan dy="-3.6"> (W/mK)</tspan></text>
<line x1="255.3" y1="18.8" x2="280.3" y2="18.8" stroke="#6424d6" stroke-width="1.1"/>
<circle cx="267.7" cy="18.8" r="3.35" fill="#fff" stroke="#6424d6" stroke-width="1.4"/>
<text x="283.2" y="23.2" font-family='"Liberation Sans", sans-serif' font-size="10.6" text-anchor="start" font-weight="normal" fill="#000" >x=0</text>
<line x1="255.3" y1="32.5" x2="280.3" y2="32.5" stroke="#000000" stroke-width="1.1"/>
<rect x="264.95" y="29.75" width="5.5" height="5.5" fill="#fff" stroke="#000000" stroke-width="1.4"/>
<text x="283.2" y="36.9" font-family='"Liberation Sans", sans-serif' font-size="10.6" text-anchor="start" font-weight="normal" fill="#000" >x=0.005</text>
<line x1="255.3" y1="46.3" x2="280.3" y2="46.3" stroke="#d61a1a" stroke-width="1.1"/>
<circle cx="267.7" cy="46.3" r="3.35" fill="#fff" stroke="#d61a1a" stroke-width="1.4"/>
<text x="283.2" y="50.7" font-family='"Liberation Sans", sans-serif' font-size="10.6" text-anchor="start" font-weight="normal" fill="#000" >x=0.010</text>
<line x1="255.3" y1="59.8" x2="280.3" y2="59.8" stroke="#1212cc" stroke-width="1.1"/>
<polygon points="267.7,55.62 271.67,62.39 263.73,62.39" fill="#fff" stroke="#1212cc" stroke-width="1.4" stroke-linejoin="miter"/>
<text x="283.2" y="64.2" font-family='"Liberation Sans", sans-serif' font-size="10.6" text-anchor="start" font-weight="normal" fill="#000" >x=0.020</text>
<line x1="255.3" y1="73.3" x2="280.3" y2="73.3" stroke="#167f16" stroke-width="1.1"/>
<polygon points="267.7,69.06 271.94,73.3 267.7,77.53 263.46,73.3" fill="#fff" stroke="#167f16" stroke-width="1.4"/>
<text x="283.2" y="77.7" font-family='"Liberation Sans", sans-serif' font-size="10.6" text-anchor="start" font-weight="normal" fill="#000" >x=0.030</text>
<line x1="393.65" y1="208" x2="395.65" y2="208" stroke="#4a4a4a" stroke-width="1.2"/>
<line x1="393.65" y1="194.6" x2="397.25" y2="194.6" stroke="#4a4a4a" stroke-width="1.2"/>
<text x="388.75" y="199.2" font-family='"Liberation Sans", sans-serif' font-size="14.2" text-anchor="end" font-weight="normal" fill="#000" >0.00</text>
<line x1="393.65" y1="181.19" x2="395.65" y2="181.19" stroke="#4a4a4a" stroke-width="1.2"/>
<line x1="393.65" y1="167.79" x2="397.25" y2="167.79" stroke="#4a4a4a" stroke-width="1.2"/>
<text x="388.75" y="172.39" font-family='"Liberation Sans", sans-serif' font-size="14.2" text-anchor="end" font-weight="normal" fill="#000" >0.05</text>
<line x1="393.65" y1="154.39" x2="395.65" y2="154.39" stroke="#4a4a4a" stroke-width="1.2"/>
<line x1="393.65" y1="140.99" x2="397.25" y2="140.99" stroke="#4a4a4a" stroke-width="1.2"/>
<text x="388.75" y="145.59" font-family='"Liberation Sans", sans-serif' font-size="14.2" text-anchor="end" font-weight="normal" fill="#000" >0.10</text>
<line x1="393.65" y1="127.58" x2="395.65" y2="127.58" stroke="#4a4a4a" stroke-width="1.2"/>
<line x1="393.65" y1="114.18" x2="397.25" y2="114.18" stroke="#4a4a4a" stroke-width="1.2"/>
<text x="388.75" y="118.78" font-family='"Liberation Sans", sans-serif' font-size="14.2" text-anchor="end" font-weight="normal" fill="#000" >0.15</text>
<line x1="393.65" y1="100.78" x2="395.65" y2="100.78" stroke="#4a4a4a" stroke-width="1.2"/>
<line x1="393.65" y1="87.38" x2="397.25" y2="87.38" stroke="#4a4a4a" stroke-width="1.2"/>
<text x="388.75" y="91.98" font-family='"Liberation Sans", sans-serif' font-size="14.2" text-anchor="end" font-weight="normal" fill="#000" >0.20</text>
<line x1="393.65" y1="73.97" x2="395.65" y2="73.97" stroke="#4a4a4a" stroke-width="1.2"/>
<line x1="393.65" y1="60.57" x2="397.25" y2="60.57" stroke="#4a4a4a" stroke-width="1.2"/>
<text x="388.75" y="65.17" font-family='"Liberation Sans", sans-serif' font-size="14.2" text-anchor="end" font-weight="normal" fill="#000" >0.25</text>
<line x1="393.65" y1="47.17" x2="395.65" y2="47.17" stroke="#4a4a4a" stroke-width="1.2"/>
<line x1="393.65" y1="33.77" x2="397.25" y2="33.77" stroke="#4a4a4a" stroke-width="1.2"/>
<text x="388.75" y="38.37" font-family='"Liberation Sans", sans-serif' font-size="14.2" text-anchor="end" font-weight="normal" fill="#000" >0.30</text>
<line x1="393.65" y1="20.36" x2="395.65" y2="20.36" stroke="#4a4a4a" stroke-width="1.2"/>
<line x1="393.65" y1="6.96" x2="397.25" y2="6.96" stroke="#4a4a4a" stroke-width="1.2"/>
<text x="388.75" y="11.56" font-family='"Liberation Sans", sans-serif' font-size="14.2" text-anchor="end" font-weight="normal" fill="#000" >0.35</text>
<line x1="393.65" y1="208" x2="393.65" y2="206" stroke="#4a4a4a" stroke-width="1.2"/>
<line x1="416.94" y1="208" x2="416.94" y2="204.4" stroke="#4a4a4a" stroke-width="1.2"/>
<text x="416.94" y="224.2" font-family='"Liberation Sans", sans-serif' font-size="14.2" text-anchor="middle" font-weight="normal" fill="#000" >300</text>
<line x1="440.23" y1="208" x2="440.23" y2="206" stroke="#4a4a4a" stroke-width="1.2"/>
<line x1="463.52" y1="208" x2="463.52" y2="204.4" stroke="#4a4a4a" stroke-width="1.2"/>
<text x="463.52" y="224.2" font-family='"Liberation Sans", sans-serif' font-size="14.2" text-anchor="middle" font-weight="normal" fill="#000" >400</text>
<line x1="486.82" y1="208" x2="486.82" y2="206" stroke="#4a4a4a" stroke-width="1.2"/>
<line x1="510.11" y1="208" x2="510.11" y2="204.4" stroke="#4a4a4a" stroke-width="1.2"/>
<text x="510.11" y="224.2" font-family='"Liberation Sans", sans-serif' font-size="14.2" text-anchor="middle" font-weight="normal" fill="#000" >500</text>
<line x1="533.4" y1="208" x2="533.4" y2="206" stroke="#4a4a4a" stroke-width="1.2"/>
<line x1="556.69" y1="208" x2="556.69" y2="204.4" stroke="#4a4a4a" stroke-width="1.2"/>
<text x="556.69" y="224.2" font-family='"Liberation Sans", sans-serif' font-size="14.2" text-anchor="middle" font-weight="normal" fill="#000" >600</text>
<line x1="579.98" y1="208" x2="579.98" y2="206" stroke="#4a4a4a" stroke-width="1.2"/>
<line x1="603.27" y1="208" x2="603.27" y2="204.4" stroke="#4a4a4a" stroke-width="1.2"/>
<text x="603.27" y="224.2" font-family='"Liberation Sans", sans-serif' font-size="14.2" text-anchor="middle" font-weight="normal" fill="#000" >700</text>
<line x1="626.57" y1="208" x2="626.57" y2="206" stroke="#4a4a4a" stroke-width="1.2"/>
<line x1="649.86" y1="208" x2="649.86" y2="204.4" stroke="#4a4a4a" stroke-width="1.2"/>
<text x="649.86" y="224.2" font-family='"Liberation Sans", sans-serif' font-size="14.2" text-anchor="middle" font-weight="normal" fill="#000" >800</text>
<line x1="673.15" y1="208" x2="673.15" y2="206" stroke="#4a4a4a" stroke-width="1.2"/>
<path d="M416.4,194.3 C416.73,194.28 417.73,194.22 418.4,194.18 C419.07,194.14 419.73,194.1 420.4,194.06 C421.07,194.01 421.73,193.97 422.4,193.92 C423.07,193.88 423.73,193.83 424.4,193.78 C425.07,193.74 425.73,193.69 426.4,193.64 C427.07,193.59 427.73,193.53 428.4,193.48 C429.07,193.42 429.73,193.37 430.4,193.31 C431.07,193.25 431.73,193.19 432.4,193.13 C433.07,193.06 433.73,193 434.4,192.93 C435.07,192.86 435.73,192.79 436.4,192.72 C437.07,192.65 437.73,192.57 438.4,192.5 C439.07,192.42 439.73,192.34 440.4,192.25 C441.07,192.17 441.73,192.08 442.4,191.99 C443.07,191.9 443.73,191.8 444.4,191.71 C445.07,191.61 445.73,191.51 446.4,191.4 C447.07,191.3 447.73,191.19 448.4,191.08 C449.07,190.97 449.73,190.85 450.4,190.73 C451.07,190.61 451.73,190.48 452.4,190.35 C453.07,190.23 453.73,190.09 454.4,189.95 C455.07,189.82 455.73,189.67 456.4,189.53 C457.07,189.38 457.73,189.23 458.4,189.07 C459.07,188.91 459.73,188.75 460.4,188.58 C461.07,188.42 461.73,188.25 462.4,188.07 C463.07,187.89 463.73,187.71 464.4,187.52 C465.07,187.33 465.73,187.14 466.4,186.94 C467.07,186.74 467.73,186.53 468.4,186.32 C469.07,186.11 469.73,185.89 470.4,185.67 C471.07,185.44 471.73,185.21 472.4,184.97 C473.07,184.74 473.73,184.5 474.4,184.25 C475.07,184 475.73,183.74 476.4,183.48 C477.07,183.21 477.73,182.94 478.4,182.67 C479.07,182.39 479.73,182.11 480.4,181.82 C481.07,181.52 481.73,181.23 482.4,180.92 C483.07,180.62 483.73,180.3 484.4,179.98 C485.07,179.66 485.73,179.34 486.4,179 C487.07,178.67 487.73,178.33 488.4,177.98 C489.07,177.63 489.73,177.28 490.4,176.92 C491.07,176.55 491.73,176.18 492.4,175.81 C493.07,175.43 493.73,175.05 494.4,174.66 C495.07,174.27 495.73,173.88 496.4,173.48 C497.07,173.07 497.73,172.66 498.4,172.25 C499.07,171.83 499.73,171.41 500.4,170.98 C501.07,170.55 501.73,170.12 502.4,169.68 C503.07,169.24 503.73,168.79 504.4,168.33 C505.07,167.88 505.73,167.42 506.4,166.95 C507.07,166.48 507.73,166.01 508.4,165.53 C509.07,165.05 509.73,164.56 510.4,164.07 C511.07,163.58 511.73,163.08 512.4,162.58 C513.07,162.07 513.73,161.56 514.4,161.05 C515.07,160.53 515.73,160.01 516.4,159.48 C517.07,158.95 517.73,158.42 518.4,157.88 C519.07,157.34 519.73,156.79 520.4,156.24 C521.07,155.69 521.73,155.13 522.4,154.57 C523.07,154 523.73,153.43 524.4,152.86 C525.07,152.28 525.73,151.7 526.4,151.12 C527.07,150.53 527.73,149.94 528.4,149.34 C529.07,148.74 529.73,148.14 530.4,147.53 C531.07,146.93 531.73,146.31 532.4,145.69 C533.07,145.07 533.73,144.45 534.4,143.82 C535.07,143.19 535.73,142.55 536.4,141.91 C537.07,141.27 537.73,140.63 538.4,139.98 C539.07,139.33 539.73,138.67 540.4,138.01 C541.07,137.35 541.73,136.68 542.4,136.01 C543.07,135.35 543.73,134.67 544.4,134 C545.07,133.32 545.73,132.64 546.4,131.96 C547.07,131.28 547.73,130.6 548.4,129.92 C549.07,129.24 549.73,128.55 550.4,127.87 C551.07,127.19 551.73,126.51 552.4,125.84 C553.07,125.16 553.73,124.49 554.4,123.82 C555.07,123.15 555.73,122.48 556.4,121.82 C557.07,121.15 557.73,120.5 558.4,119.85 C559.07,119.2 559.73,118.55 560.4,117.91 C561.07,117.28 561.73,116.64 562.4,116.02 C563.07,115.4 563.73,114.79 564.4,114.19 C565.07,113.59 565.73,112.99 566.4,112.41 C567.07,111.83 567.73,111.26 568.4,110.7 C569.07,110.15 569.73,109.6 570.4,109.07 C571.07,108.54 571.73,108.02 572.4,107.52 C573.07,107.01 573.73,106.53 574.4,106.04 C575.07,105.55 575.73,105.08 576.4,104.59 C577.07,104.11 577.73,103.62 578.4,103.11 C579.07,102.6 579.73,102.08 580.4,101.54 C581.07,100.99 581.73,100.41 582.4,99.82 C583.07,99.23 583.73,98.61 584.4,98 C585.07,97.39 585.73,96.77 586.4,96.15 C587.07,95.54 587.73,94.93 588.4,94.33 C589.07,93.74 589.73,93.16 590.4,92.59 C591.07,92.02 591.73,91.47 592.4,90.94 C593.07,90.4 593.73,89.88 594.4,89.37 C595.07,88.87 595.73,88.37 596.4,87.9 C597.07,87.42 597.73,86.96 598.4,86.51 C599.07,86.07 599.73,85.63 600.4,85.22 C601.07,84.8 601.73,84.4 602.4,84.01 C603.07,83.62 603.73,83.25 604.4,82.89 C605.07,82.53 605.73,82.19 606.4,81.86 C607.07,81.53 607.73,81.22 608.4,80.92 C609.07,80.62 609.73,80.34 610.4,80.07 C611.07,79.8 611.73,79.55 612.4,79.31 C613.07,79.07 613.73,78.85 614.4,78.64 C615.07,78.43 615.73,78.24 616.4,78.06 C617.07,77.88 617.73,77.72 618.4,77.57 C619.07,77.42 619.73,77.28 620.4,77.16 C621.07,77.05 621.73,76.94 622.4,76.85 C623.07,76.76 623.73,76.69 624.4,76.63 C625.07,76.57 625.73,76.53 626.4,76.5 C627.07,76.47 627.73,76.46 628.4,76.46 C629.07,76.46 629.73,76.48 630.4,76.51 C631.07,76.55 631.73,76.59 632.4,76.65 C633.07,76.72 633.73,76.79 634.4,76.89 C635.07,76.98 635.73,77.09 636.4,77.21 C637.07,77.33 637.73,77.47 638.4,77.63 C639.07,77.78 639.73,77.95 640.4,78.13 C641.07,78.32 641.73,78.52 642.4,78.73 C643.07,78.95 643.73,79.18 644.4,79.42 C645.07,79.67 645.73,79.93 646.4,80.2 C647.07,80.48 647.73,80.77 648.4,81.08 C649.07,81.38 649.73,81.7 650.4,82.04 C651.07,82.38 651.73,82.73 652.4,83.1 C653.07,83.47 653.73,83.85 654.4,84.25 C655.07,84.65 655.73,85.06 656.4,85.49 C657.07,85.92 657.73,86.37 658.4,86.83 C659.07,87.29 659.73,87.76 660.4,88.26 C661.07,88.75 662.02,89.48 662.4,89.78 C662.78,90.07 662.65,89.97 662.7,90.01" fill="none" stroke="#000000" stroke-width="1.85" stroke-linecap="butt"/>
<path d="M416.4,192.58 C416.73,192.6 417.73,192.67 418.4,192.7 C419.07,192.73 419.73,192.75 420.4,192.76 C421.07,192.77 421.73,192.77 422.4,192.75 C423.07,192.74 423.73,192.72 424.4,192.69 C425.07,192.66 425.73,192.62 426.4,192.57 C427.07,192.52 427.73,192.46 428.4,192.39 C429.07,192.32 429.73,192.25 430.4,192.16 C431.07,192.07 431.73,191.97 432.4,191.87 C433.07,191.76 433.73,191.65 434.4,191.52 C435.07,191.4 435.73,191.26 436.4,191.12 C437.07,190.98 437.73,190.83 438.4,190.67 C439.07,190.51 439.73,190.34 440.4,190.16 C441.07,189.98 441.73,189.8 442.4,189.6 C443.07,189.41 443.73,189.2 444.4,188.99 C445.07,188.78 445.73,188.56 446.4,188.33 C447.07,188.11 447.73,187.87 448.4,187.63 C449.07,187.38 449.73,187.13 450.4,186.87 C451.07,186.61 451.73,186.34 452.4,186.06 C453.07,185.79 453.73,185.51 454.4,185.21 C455.07,184.92 455.73,184.62 456.4,184.32 C457.07,184.01 457.73,183.7 458.4,183.37 C459.07,183.05 459.73,182.72 460.4,182.39 C461.07,182.05 461.73,181.71 462.4,181.36 C463.07,181.01 463.73,180.65 464.4,180.29 C465.07,179.92 465.73,179.55 466.4,179.17 C467.07,178.79 467.73,178.41 468.4,178.02 C469.07,177.63 469.73,177.23 470.4,176.82 C471.07,176.42 471.73,176.01 472.4,175.59 C473.07,175.17 473.73,174.75 474.4,174.32 C475.07,173.89 475.73,173.45 476.4,173.01 C477.07,172.56 477.73,172.11 478.4,171.66 C479.07,171.2 479.73,170.74 480.4,170.28 C481.07,169.81 481.73,169.34 482.4,168.86 C483.07,168.38 483.73,167.9 484.4,167.41 C485.07,166.92 485.73,166.42 486.4,165.92 C487.07,165.42 487.73,164.91 488.4,164.4 C489.07,163.89 489.73,163.37 490.4,162.85 C491.07,162.33 491.73,161.8 492.4,161.27 C493.07,160.74 493.73,160.2 494.4,159.66 C495.07,159.12 495.73,158.57 496.4,158.02 C497.07,157.47 497.73,156.91 498.4,156.35 C499.07,155.79 499.73,155.23 500.4,154.66 C501.07,154.09 501.73,153.51 502.4,152.93 C503.07,152.36 503.73,151.77 504.4,151.19 C505.07,150.6 505.73,150.01 506.4,149.41 C507.07,148.82 507.73,148.22 508.4,147.61 C509.07,147.01 509.73,146.4 510.4,145.79 C511.07,145.18 511.73,144.57 512.4,143.95 C513.07,143.33 513.73,142.71 514.4,142.08 C515.07,141.46 515.73,140.83 516.4,140.2 C517.07,139.57 517.73,138.93 518.4,138.29 C519.07,137.65 519.73,137.01 520.4,136.37 C521.07,135.72 521.73,135.07 522.4,134.42 C523.07,133.77 523.73,133.12 524.4,132.46 C525.07,131.8 525.73,131.14 526.4,130.48 C527.07,129.82 527.73,129.15 528.4,128.49 C529.07,127.82 529.73,127.15 530.4,126.48 C531.07,125.81 531.73,125.13 532.4,124.45 C533.07,123.78 533.73,123.1 534.4,122.42 C535.07,121.74 535.73,121.05 536.4,120.37 C537.07,119.68 537.73,119 538.4,118.31 C539.07,117.62 539.73,116.93 540.4,116.23 C541.07,115.54 541.73,114.85 542.4,114.15 C543.07,113.46 543.73,112.76 544.4,112.06 C545.07,111.37 545.73,110.67 546.4,109.97 C547.07,109.27 547.73,108.57 548.4,107.87 C549.07,107.17 549.73,106.47 550.4,105.77 C551.07,105.08 551.73,104.38 552.4,103.68 C553.07,102.98 553.73,102.29 554.4,101.59 C555.07,100.89 555.73,100.2 556.4,99.51 C557.07,98.82 557.73,98.12 558.4,97.43 C559.07,96.75 559.73,96.06 560.4,95.37 C561.07,94.69 561.73,94.01 562.4,93.33 C563.07,92.65 563.73,91.97 564.4,91.3 C565.07,90.63 565.73,89.96 566.4,89.29 C567.07,88.63 567.73,87.96 568.4,87.3 C569.07,86.65 569.73,85.99 570.4,85.34 C571.07,84.69 571.73,84.05 572.4,83.41 C573.07,82.77 573.73,82.13 574.4,81.5 C575.07,80.87 575.73,80.25 576.4,79.63 C577.07,79.01 577.73,78.4 578.4,77.79 C579.07,77.19 579.73,76.58 580.4,75.99 C581.07,75.4 581.73,74.81 582.4,74.23 C583.07,73.65 583.73,73.08 584.4,72.51 C585.07,71.94 585.73,71.39 586.4,70.84 C587.07,70.28 587.73,69.74 588.4,69.21 C589.07,68.67 589.73,68.15 590.4,67.63 C591.07,67.11 591.73,66.6 592.4,66.1 C593.07,65.6 593.73,65.11 594.4,64.63 C595.07,64.15 595.73,63.68 596.4,63.22 C597.07,62.75 597.73,62.3 598.4,61.86 C599.07,61.42 599.73,60.99 600.4,60.57 C601.07,60.15 601.73,59.74 602.4,59.34 C603.07,58.94 603.73,58.55 604.4,58.18 C605.07,57.8 605.73,57.44 606.4,57.08 C607.07,56.73 607.73,56.39 608.4,56.06 C609.07,55.73 609.73,55.41 610.4,55.11 C611.07,54.8 611.73,54.51 612.4,54.23 C613.07,53.95 613.73,53.68 614.4,53.42 C615.07,53.17 615.73,52.92 616.4,52.69 C617.07,52.46 617.73,52.24 618.4,52.03 C619.07,51.82 619.73,51.63 620.4,51.45 C621.07,51.27 621.73,51.1 622.4,50.94 C623.07,50.79 623.73,50.64 624.4,50.51 C625.07,50.38 625.73,50.26 626.4,50.16 C627.07,50.06 627.73,49.97 628.4,49.89 C629.07,49.81 629.73,49.75 630.4,49.7 C631.07,49.64 631.73,49.61 632.4,49.58 C633.07,49.56 633.73,49.55 634.4,49.55 C635.07,49.56 635.73,49.57 636.4,49.61 C637.07,49.64 637.73,49.68 638.4,49.74 C639.07,49.8 639.73,49.87 640.4,49.96 C641.07,50.05 641.73,50.15 642.4,50.27 C643.07,50.38 643.73,50.51 644.4,50.66 C645.07,50.8 645.73,50.96 646.4,51.13 C647.07,51.31 647.73,51.5 648.4,51.7 C649.07,51.9 649.73,52.12 650.4,52.35 C651.07,52.59 651.73,52.83 652.4,53.1 C653.07,53.36 653.73,53.64 654.4,53.93 C655.07,54.22 655.73,54.53 656.4,54.85 C657.07,55.18 657.73,55.52 658.4,55.87 C659.07,56.22 659.73,56.59 660.4,56.98 C661.07,57.37 662.02,57.95 662.4,58.18 C662.78,58.41 662.65,58.34 662.7,58.37" fill="none" stroke="#d61a1a" stroke-width="1.85" stroke-linecap="butt"/>
<path d="M416.4,185.95 C416.73,185.9 417.73,185.74 418.4,185.62 C419.07,185.5 419.73,185.37 420.4,185.23 C421.07,185.1 421.73,184.96 422.4,184.81 C423.07,184.65 423.73,184.5 424.4,184.33 C425.07,184.17 425.73,183.99 426.4,183.82 C427.07,183.64 427.73,183.45 428.4,183.26 C429.07,183.06 429.73,182.86 430.4,182.65 C431.07,182.45 431.73,182.23 432.4,182.01 C433.07,181.79 433.73,181.56 434.4,181.33 C435.07,181.09 435.73,180.85 436.4,180.6 C437.07,180.36 437.73,180.1 438.4,179.84 C439.07,179.58 439.73,179.31 440.4,179.04 C441.07,178.77 441.73,178.49 442.4,178.2 C443.07,177.92 443.73,177.62 444.4,177.33 C445.07,177.03 445.73,176.72 446.4,176.41 C447.07,176.1 447.73,175.79 448.4,175.47 C449.07,175.15 449.73,174.82 450.4,174.49 C451.07,174.15 451.73,173.82 452.4,173.47 C453.07,173.13 453.73,172.78 454.4,172.42 C455.07,172.07 455.73,171.71 456.4,171.34 C457.07,170.98 457.73,170.61 458.4,170.23 C459.07,169.86 459.73,169.48 460.4,169.09 C461.07,168.7 461.73,168.31 462.4,167.92 C463.07,167.52 463.73,167.12 464.4,166.72 C465.07,166.31 465.73,165.9 466.4,165.49 C467.07,165.07 467.73,164.65 468.4,164.23 C469.07,163.81 469.73,163.38 470.4,162.95 C471.07,162.52 471.73,162.08 472.4,161.64 C473.07,161.2 473.73,160.75 474.4,160.3 C475.07,159.85 475.73,159.4 476.4,158.94 C477.07,158.49 477.73,158.02 478.4,157.56 C479.07,157.09 479.73,156.63 480.4,156.15 C481.07,155.68 481.73,155.2 482.4,154.72 C483.07,154.25 483.73,153.76 484.4,153.28 C485.07,152.79 485.73,152.3 486.4,151.8 C487.07,151.31 487.73,150.81 488.4,150.31 C489.07,149.81 489.73,149.31 490.4,148.8 C491.07,148.3 491.73,147.79 492.4,147.28 C493.07,146.76 493.73,146.25 494.4,145.73 C495.07,145.21 495.73,144.69 496.4,144.17 C497.07,143.64 497.73,143.12 498.4,142.59 C499.07,142.06 499.73,141.53 500.4,141 C501.07,140.46 501.73,139.93 502.4,139.39 C503.07,138.85 503.73,138.31 504.4,137.77 C505.07,137.22 505.73,136.68 506.4,136.13 C507.07,135.58 507.73,135.03 508.4,134.48 C509.07,133.93 509.73,133.38 510.4,132.82 C511.07,132.27 511.73,131.71 512.4,131.15 C513.07,130.6 513.73,130.04 514.4,129.48 C515.07,128.91 515.73,128.35 516.4,127.79 C517.07,127.22 517.73,126.66 518.4,126.09 C519.07,125.52 519.73,124.95 520.4,124.39 C521.07,123.82 521.73,123.25 522.4,122.67 C523.07,122.1 523.73,121.53 524.4,120.96 C525.07,120.38 525.73,119.81 526.4,119.23 C527.07,118.66 527.73,118.08 528.4,117.51 C529.07,116.93 529.73,116.35 530.4,115.77 C531.07,115.2 531.73,114.62 532.4,114.04 C533.07,113.46 533.73,112.88 534.4,112.3 C535.07,111.72 535.73,111.15 536.4,110.57 C537.07,109.99 537.73,109.41 538.4,108.83 C539.07,108.25 539.73,107.67 540.4,107.09 C541.07,106.51 541.73,105.93 542.4,105.35 C543.07,104.77 543.73,104.19 544.4,103.62 C545.07,103.04 545.73,102.46 546.4,101.88 C547.07,101.31 547.73,100.73 548.4,100.16 C549.07,99.59 549.73,99.01 550.4,98.44 C551.07,97.87 551.73,97.3 552.4,96.73 C553.07,96.16 553.73,95.6 554.4,95.03 C555.07,94.47 555.73,93.91 556.4,93.35 C557.07,92.79 557.73,92.23 558.4,91.68 C559.07,91.12 559.73,90.57 560.4,90.02 C561.07,89.47 561.73,88.93 562.4,88.38 C563.07,87.84 563.73,87.3 564.4,86.76 C565.07,86.23 565.73,85.69 566.4,85.16 C567.07,84.63 567.73,84.11 568.4,83.59 C569.07,83.07 569.73,82.55 570.4,82.03 C571.07,81.52 571.73,81.01 572.4,80.51 C573.07,80 573.73,79.5 574.4,79.01 C575.07,78.51 575.73,78.02 576.4,77.54 C577.07,77.05 577.73,76.57 578.4,76.1 C579.07,75.62 579.73,75.15 580.4,74.69 C581.07,74.23 581.73,73.77 582.4,73.32 C583.07,72.86 583.73,72.42 584.4,71.98 C585.07,71.54 585.73,71.1 586.4,70.68 C587.07,70.25 587.73,69.83 588.4,69.41 C589.07,69 589.73,68.59 590.4,68.19 C591.07,67.79 591.73,67.4 592.4,67.01 C593.07,66.63 593.73,66.25 594.4,65.88 C595.07,65.5 595.73,65.14 596.4,64.79 C597.07,64.43 597.73,64.08 598.4,63.74 C599.07,63.4 599.73,63.07 600.4,62.75 C601.07,62.42 601.73,62.11 602.4,61.8 C603.07,61.5 603.73,61.2 604.4,60.91 C605.07,60.62 605.73,60.34 606.4,60.07 C607.07,59.8 607.73,59.54 608.4,59.29 C609.07,59.04 609.73,58.8 610.4,58.56 C611.07,58.33 611.73,58.11 612.4,57.89 C613.07,57.68 613.73,57.48 614.4,57.28 C615.07,57.09 615.73,56.91 616.4,56.74 C617.07,56.56 617.73,56.4 618.4,56.25 C619.07,56.1 619.73,55.96 620.4,55.82 C621.07,55.69 621.73,55.57 622.4,55.47 C623.07,55.36 623.73,55.26 624.4,55.17 C625.07,55.09 625.73,55.01 626.4,54.95 C627.07,54.88 627.73,54.83 628.4,54.79 C629.07,54.75 629.73,54.72 630.4,54.7 C631.07,54.69 631.73,54.68 632.4,54.69 C633.07,54.69 633.73,54.71 634.4,54.75 C635.07,54.78 635.73,54.82 636.4,54.88 C637.07,54.93 637.73,55 638.4,55.08 C639.07,55.17 639.73,55.26 640.4,55.37 C641.07,55.48 641.73,55.6 642.4,55.73 C643.07,55.87 643.73,56.01 644.4,56.17 C645.07,56.33 645.73,56.51 646.4,56.7 C647.07,56.89 647.73,57.09 648.4,57.3 C649.07,57.52 649.73,57.75 650.4,57.99 C651.07,58.24 651.73,58.49 652.4,58.77 C653.07,59.04 653.73,59.33 654.4,59.63 C655.07,59.93 655.73,60.25 656.4,60.58 C657.07,60.91 657.73,61.25 658.4,61.62 C659.07,61.98 659.73,62.35 660.4,62.74 C661.07,63.14 662.02,63.73 662.4,63.97 C662.78,64.2 662.65,64.12 662.7,64.16" fill="none" stroke="#1212cc" stroke-width="1.85" stroke-linecap="butt"/>
<path d="M416.4,189.58 C416.73,189.5 417.73,189.24 418.4,189.07 C419.07,188.9 419.73,188.73 420.4,188.56 C421.07,188.38 421.73,188.21 422.4,188.03 C423.07,187.85 423.73,187.67 424.4,187.49 C425.07,187.31 425.73,187.13 426.4,186.94 C427.07,186.75 427.73,186.56 428.4,186.37 C429.07,186.18 429.73,185.99 430.4,185.79 C431.07,185.59 431.73,185.39 432.4,185.18 C433.07,184.98 433.73,184.77 434.4,184.56 C435.07,184.35 435.73,184.13 436.4,183.91 C437.07,183.69 437.73,183.46 438.4,183.23 C439.07,183 439.73,182.77 440.4,182.53 C441.07,182.29 441.73,182.04 442.4,181.79 C443.07,181.54 443.73,181.29 444.4,181.02 C445.07,180.76 445.73,180.5 446.4,180.22 C447.07,179.95 447.73,179.67 448.4,179.38 C449.07,179.1 449.73,178.8 450.4,178.51 C451.07,178.21 451.73,177.9 452.4,177.59 C453.07,177.27 453.73,176.96 454.4,176.63 C455.07,176.3 455.73,175.97 456.4,175.63 C457.07,175.29 457.73,174.94 458.4,174.58 C459.07,174.23 459.73,173.87 460.4,173.5 C461.07,173.13 461.73,172.75 462.4,172.36 C463.07,171.98 463.73,171.59 464.4,171.19 C465.07,170.79 465.73,170.38 466.4,169.96 C467.07,169.55 467.73,169.12 468.4,168.69 C469.07,168.26 469.73,167.82 470.4,167.37 C471.07,166.92 471.73,166.46 472.4,166 C473.07,165.53 473.73,165.06 474.4,164.58 C475.07,164.1 475.73,163.6 476.4,163.11 C477.07,162.61 477.73,162.1 478.4,161.58 C479.07,161.06 479.73,160.54 480.4,160 C481.07,159.47 481.73,158.92 482.4,158.37 C483.07,157.82 483.73,157.26 484.4,156.69 C485.07,156.12 485.73,155.54 486.4,154.95 C487.07,154.37 487.73,153.78 488.4,153.18 C489.07,152.57 489.73,151.97 490.4,151.35 C491.07,150.74 491.73,150.12 492.4,149.49 C493.07,148.86 493.73,148.22 494.4,147.58 C495.07,146.94 495.73,146.3 496.4,145.64 C497.07,144.99 497.73,144.33 498.4,143.67 C499.07,143.01 499.73,142.34 500.4,141.67 C501.07,140.99 501.73,140.32 502.4,139.63 C503.07,138.95 503.73,138.27 504.4,137.58 C505.07,136.89 505.73,136.19 506.4,135.49 C507.07,134.8 507.73,134.1 508.4,133.39 C509.07,132.69 509.73,131.98 510.4,131.27 C511.07,130.56 511.73,129.85 512.4,129.13 C513.07,128.42 513.73,127.7 514.4,126.98 C515.07,126.27 515.73,125.54 516.4,124.82 C517.07,124.1 517.73,123.37 518.4,122.64 C519.07,121.91 519.73,121.18 520.4,120.45 C521.07,119.71 521.73,118.98 522.4,118.24 C523.07,117.5 523.73,116.76 524.4,116.01 C525.07,115.26 525.73,114.52 526.4,113.76 C527.07,113.01 527.73,112.26 528.4,111.5 C529.07,110.74 529.73,109.98 530.4,109.21 C531.07,108.45 531.73,107.68 532.4,106.91 C533.07,106.14 533.73,105.36 534.4,104.58 C535.07,103.8 535.73,103.02 536.4,102.23 C537.07,101.44 537.73,100.65 538.4,99.86 C539.07,99.06 539.73,98.26 540.4,97.46 C541.07,96.65 541.73,95.85 542.4,95.03 C543.07,94.22 543.73,93.41 544.4,92.59 C545.07,91.77 545.73,90.95 546.4,90.13 C547.07,89.31 547.73,88.48 548.4,87.66 C549.07,86.83 549.73,86 550.4,85.17 C551.07,84.34 551.73,83.51 552.4,82.68 C553.07,81.85 553.73,81.02 554.4,80.2 C555.07,79.37 555.73,78.54 556.4,77.71 C557.07,76.88 557.73,76.06 558.4,75.23 C559.07,74.41 559.73,73.58 560.4,72.76 C561.07,71.94 561.73,71.13 562.4,70.31 C563.07,69.5 563.73,68.69 564.4,67.88 C565.07,67.07 565.73,66.27 566.4,65.47 C567.07,64.67 567.73,63.88 568.4,63.09 C569.07,62.3 569.73,61.52 570.4,60.74 C571.07,59.97 571.73,59.19 572.4,58.43 C573.07,57.66 573.73,56.91 574.4,56.16 C575.07,55.41 575.73,54.66 576.4,53.93 C577.07,53.19 577.73,52.46 578.4,51.75 C579.07,51.03 579.73,50.32 580.4,49.62 C581.07,48.92 581.73,48.22 582.4,47.54 C583.07,46.86 583.73,46.19 584.4,45.53 C585.07,44.87 585.73,44.22 586.4,43.58 C587.07,42.94 587.73,42.32 588.4,41.7 C589.07,41.09 589.73,40.48 590.4,39.89 C591.07,39.3 591.73,38.73 592.4,38.16 C593.07,37.6 593.73,37.05 594.4,36.51 C595.07,35.97 595.73,35.45 596.4,34.95 C597.07,34.44 597.73,33.94 598.4,33.47 C599.07,32.99 599.73,32.53 600.4,32.08 C601.07,31.64 601.73,31.21 602.4,30.8 C603.07,30.38 603.73,29.99 604.4,29.61 C605.07,29.23 605.73,28.87 606.4,28.53 C607.07,28.18 607.73,27.86 608.4,27.55 C609.07,27.24 609.73,26.95 610.4,26.67 C611.07,26.4 611.73,26.14 612.4,25.9 C613.07,25.65 613.73,25.43 614.4,25.22 C615.07,25.01 615.73,24.82 616.4,24.64 C617.07,24.47 617.73,24.31 618.4,24.16 C619.07,24.02 619.73,23.89 620.4,23.78 C621.07,23.66 621.73,23.57 622.4,23.49 C623.07,23.41 623.73,23.34 624.4,23.29 C625.07,23.24 625.73,23.2 626.4,23.18 C627.07,23.16 627.73,23.16 628.4,23.17 C629.07,23.18 629.73,23.2 630.4,23.24 C631.07,23.28 631.73,23.34 632.4,23.4 C633.07,23.47 633.73,23.55 634.4,23.65 C635.07,23.75 635.73,23.86 636.4,23.98 C637.07,24.11 637.73,24.25 638.4,24.4 C639.07,24.55 639.73,24.72 640.4,24.9 C641.07,25.08 641.73,25.27 642.4,25.48 C643.07,25.69 643.73,25.91 644.4,26.14 C645.07,26.37 645.73,26.62 646.4,26.88 C647.07,27.14 647.73,27.41 648.4,27.69 C649.07,27.98 649.73,28.28 650.4,28.59 C651.07,28.9 651.73,29.22 652.4,29.55 C653.07,29.89 653.73,30.23 654.4,30.59 C655.07,30.95 655.73,31.32 656.4,31.7 C657.07,32.08 657.73,32.48 658.4,32.88 C659.07,33.29 659.73,33.7 660.4,34.13 C661.07,34.56 662.02,35.2 662.4,35.45 C662.78,35.7 662.65,35.62 662.7,35.65" fill="none" stroke="#167f16" stroke-width="1.85" stroke-linecap="butt"/>
<rect x="393.65" y="6.96" width="279.5" height="201.04" fill="none" stroke="#4a4a4a" stroke-width="1.35"/>
<line x1="562.8" y1="121.6" x2="588.6" y2="121.6" stroke="#000000" stroke-width="2"/>
<text x="591.8" y="126.1" font-family='"Liberation Sans", sans-serif' font-size="10.5" text-anchor="start" font-weight="normal" fill="#000" >x=0.005</text>
<line x1="562.8" y1="135.1" x2="588.6" y2="135.1" stroke="#d61a1a" stroke-width="2"/>
<text x="591.8" y="139.6" font-family='"Liberation Sans", sans-serif' font-size="10.5" text-anchor="start" font-weight="normal" fill="#000" >x=0.010</text>
<line x1="562.8" y1="148.5" x2="588.6" y2="148.5" stroke="#1212cc" stroke-width="2"/>
<text x="591.8" y="153" font-family='"Liberation Sans", sans-serif' font-size="10.5" text-anchor="start" font-weight="normal" fill="#000" >x=0.020</text>
<line x1="562.8" y1="161.9" x2="588.6" y2="161.9" stroke="#167f16" stroke-width="2"/>
<text x="591.8" y="166.4" font-family='"Liberation Sans", sans-serif' font-size="10.5" text-anchor="start" font-weight="normal" fill="#000" >x=0.030</text>
<text x="533.6" y="242.2" font-family='"Liberation Sans", sans-serif' font-size="21" text-anchor="middle" font-weight="normal" fill="#000" >T (K)</text>
<text transform="translate(354.6,107.2) rotate(-90)" font-family='"Liberation Sans", sans-serif' font-size="21.5" text-anchor="middle" fill="#000">zT</text>
<text x="337.8" y="24.6" font-family='"Liberation Serif", serif' font-size="19.8" text-anchor="start" font-weight="bold" fill="#000" >(b)</text>
</svg>
</body></html>
